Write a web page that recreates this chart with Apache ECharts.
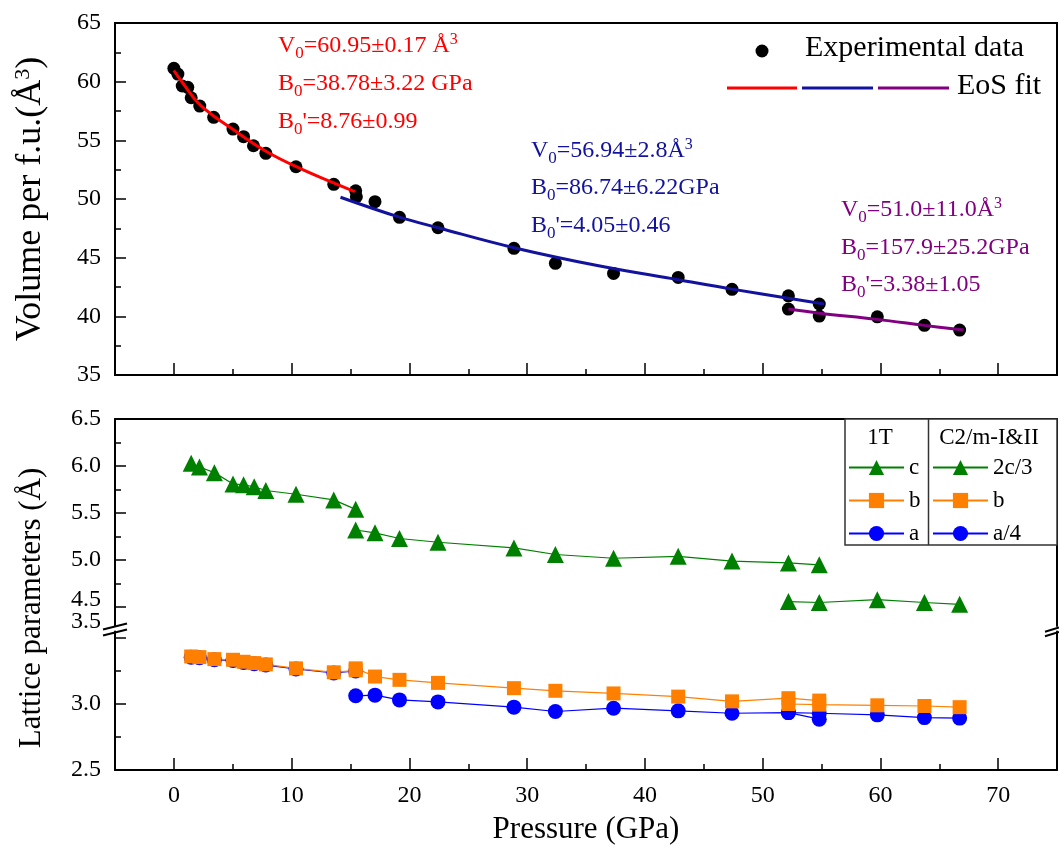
<!DOCTYPE html>
<html><head><meta charset="utf-8">
<script src="https://cdn.jsdelivr.net/npm/echarts@6/dist/echarts.min.js"></script>
<style>html,body{margin:0;padding:0;background:#fff}#c{width:1059px;height:847px}</style>
</head><body><div id="c"></div>
<script>
const FONT = 'Liberation Serif';

// ---------- Top panel: volume per f.u. ----------
const P_VOL = [0, 0.34, 0.71, 1.18, 1.47, 2.2, 3.38, 5.02, 5.92, 6.76, 7.81, 10.37, 13.58, 15.44, 15.5, 17.08, 19.16, 22.43, 28.88, 32.4, 37.34, 42.83, 47.4, 52.19, 52.19, 54.81, 54.81, 59.74, 63.74, 66.73];
const VOLUME = [61.14, 60.65, 59.63, 59.52, 58.63, 57.92, 56.96, 55.96, 55.31, 54.54, 53.89, 52.75, 51.25, 50.7, 50.19, 49.77, 48.44, 47.55, 45.8, 44.52, 43.66, 43.32, 42.3, 41.75, 40.62, 41.05, 40.02, 39.96, 39.23, 38.83];

const FIT1_P = [0, 0.57, 2.25, 5.07, 7.89, 10.71, 13.52, 15.36];
const FIT1_V = [60.95, 60.14, 58.0, 55.9, 54.03, 52.61, 51.39, 50.62];
const FIT2_P = [14.15, 19.16, 22.43, 28.88, 36.07, 42.83, 47.4, 55.23];
const FIT2_V = [50.15, 48.45, 47.55, 45.85, 44.31, 43.12, 42.32, 41.05];
const FIT3_P = [52.19, 54.81, 59.74, 63.74, 67.06];
const FIT3_V = [40.62, 40.27, 39.74, 39.23, 38.83];

// ---------- Bottom panel: lattice parameters ----------
const P_1T = [1.47, 2.17, 3.44, 5.02, 5.92, 6.82, 7.81, 10.37, 13.58, 15.44];
const C_1T = [6.03, 5.99, 5.93, 5.81, 5.80, 5.78, 5.74, 5.70, 5.64, 5.54];
const B_1T = [3.36, 3.355, 3.34, 3.335, 3.32, 3.31, 3.30, 3.27, 3.24, 3.255];
const A_1T = [3.355, 3.35, 3.335, 3.33, 3.315, 3.305, 3.295, 3.265, 3.235, 3.25];

const P_C2M1 = [15.44, 17.08, 19.16, 22.43, 28.88, 32.4, 37.34, 42.83, 47.4, 52.19, 54.81];
const C_C2M1 = [5.32, 5.29, 5.23, 5.19, 5.13, 5.06, 5.02, 5.04, 4.99, 4.97, 4.95];
const B_C2M1 = [3.27, 3.208, 3.183, 3.16, 3.12, 3.10, 3.08, 3.056, 3.02, 3.044, 3.026];
const A_C2M1 = [3.062, 3.067, 3.031, 3.016, 2.976, 2.943, 2.968, 2.948, 2.93, 2.935, 2.885];

const P_C2M2 = [52.19, 54.81, 59.74, 63.74, 66.73];
const C_C2M2 = [4.56, 4.55, 4.58, 4.55, 4.53];
const B_C2M2 = [3.0, 2.995, 2.99, 2.985, 2.976];
const A_C2M2 = [2.935, 2.93, 2.918, 2.897, 2.893];

// ---------- Tick values ----------
const X_MAJOR = [0, 10, 20, 30, 40, 50, 60, 70];
const X_MINOR = [5, 15, 25, 35, 45, 55, 65];
const V_LABELS = [35, 40, 45, 50, 55, 60, 65];
const V_MAJOR = [40, 45, 50, 55, 60];
const V_MINOR = [37.5, 42.5, 47.5, 52.5, 57.5, 62.5];
const Y_UP_LABELS = [4.5, 5.0, 5.5, 6.0, 6.5];
const Y_UP_MAJOR = [4.5, 5.0, 5.5, 6.0];
const Y_UP_MINOR = [4.75, 5.25, 5.75, 6.25];
const Y_LO_LABELS = [2.5, 3.0, 3.5];
const Y_LO_MAJOR = [3.0, 3.5];
const Y_LO_MINOR = [2.75, 3.25];

const zip = (xs, ys) => xs.map((x, i) => [x, ys[i]]);

const GREEN = '#008000', ORANGE = '#FF8000', BLUE = '#0000FF';
const RED = '#FF0000', NAVY = '#12129E', PURPLE = '#800080';

const chart = echarts.init(document.getElementById('c'));

const labelBase = () => ({ fontFamily: FONT, fontSize: 24, color: '#000' });

// axis drawing the frame line (and optionally labels)
function lineAxis(grid, min, max, pos, labels, extra) {
  return Object.assign({
    type: 'value', gridIndex: grid, min, max, position: pos,
    axisLine: { show: true, onZero: false, lineStyle: { color: '#000', width: 2 } },
    axisTick: { show: false }, splitLine: { show: false }, minorTick: { show: false },
    axisLabel: labels ? Object.assign({ show: true, margin: 14, customValues: labels }, labelBase()) : { show: false }
  }, extra || {});
}
// axis drawing only tick marks that point into the plot
function tickAxis(grid, min, max, pos, values, len) {
  return {
    type: 'value', gridIndex: grid, min, max, position: pos,
    axisLine: { show: false, onZero: false },
    axisTick: { show: true, inside: true, length: len, customValues: values, lineStyle: { color: '#000', width: 1.5 } },
    axisLabel: { show: false }, splitLine: { show: false }
  };
}

function lineSeries(name, xs, ys, color, symbol, size, xi, yi) {
  return {
    name, type: 'line', xAxisIndex: xi, yAxisIndex: yi, data: zip(xs, ys),
    symbol, symbolSize: size, showSymbol: true,
    lineStyle: { color, width: 1.2 }, itemStyle: { color, opacity: 1 },
    emphasis: { disabled: true }
  };
}

function fitSeries(xs, ys, color) {
  return {
    type: 'line', xAxisIndex: 0, yAxisIndex: 0, data: zip(xs, ys), smooth: 0.4,
    showSymbol: false, symbol: 'none', lineStyle: { color, width: 3 }, z: 4,
    emphasis: { disabled: true }
  };
}

const sub = { fontFamily: FONT, fontSize: 17, padding: [16, 0, 0, 0] };
const sup = { fontFamily: FONT, fontSize: 16, padding: [0, 0, 11, 0] };

function annot(lines, left, tops, color) {
  return lines.map((t, i) => ({
    type: 'text', left: left, top: tops[i] - 16, z: 10,
    style: {
      text: t, fill: color, fontFamily: FONT, fontSize: 24,
      rich: { s: Object.assign({ fill: color }, sub), p: Object.assign({ fill: color }, sup) }
    }
  }));
}

const graphics = [].concat(
  annot(['V{s|0}=60.95±0.17 Å{p|3}', 'B{s|0}=38.78±3.22 GPa', "B{s|0}'=8.76±0.99"], 278, [48, 88, 126], RED),
  annot(['V{s|0}=56.94±2.8Å{p|3}', 'B{s|0}=86.74±6.22GPa', "B{s|0}'=4.05±0.46"], 531, [153, 192, 230], NAVY),
  annot(['V{s|0}=51.0±11.0Å{p|3}', 'B{s|0}=157.9±25.2GPa', "B{s|0}'=3.38±1.05"], 841, [212, 252, 289], PURPLE),
  [
    // top legend
    { type: 'circle', shape: { cx: 762, cy: 51, r: 6.5 }, style: { fill: '#000' }, z: 10 },
    { type: 'text', left: 805, top: 33, z: 10, style: { text: 'Experimental data', fontFamily: FONT, fontSize: 30, fill: '#000' } },
    { type: 'line', shape: { x1: 727, y1: 88, x2: 797, y2: 88 }, style: { stroke: RED, lineWidth: 3 }, z: 10 },
    { type: 'line', shape: { x1: 802, y1: 88, x2: 873, y2: 88 }, style: { stroke: NAVY, lineWidth: 3 }, z: 10 },
    { type: 'line', shape: { x1: 878, y1: 88, x2: 949, y2: 88 }, style: { stroke: PURPLE, lineWidth: 3 }, z: 10 },
    { type: 'text', left: 957, top: 71, z: 10, style: { text: 'EoS fit', fontFamily: FONT, fontSize: 30, fill: '#000' } },
    // bottom legend box
    { type: 'rect', shape: { x: 845, y: 419, width: 212, height: 126 }, style: { fill: '#fff', stroke: '#333', lineWidth: 1.5 }, z: 1 },
    { type: 'line', shape: { x1: 928.5, y1: 419, x2: 928.5, y2: 545 }, style: { stroke: '#333', lineWidth: 1.5 }, z: 1 },
    { type: 'text', x: 880, y: 438, z: 10, style: { text: '1T', fontFamily: FONT, fontSize: 23, fill: '#000', align: 'center', verticalAlign: 'middle' } },
    { type: 'text', x: 989, y: 438, z: 10, style: { text: 'C2/m-I&II', fontFamily: FONT, fontSize: 23, fill: '#000', align: 'center', verticalAlign: 'middle' } },
    // bottom y title
    { type: 'text', x: 32, y: 608, rotation: Math.PI / 2, z: 10, style: { text: 'Lattice parameters (Å)', fontFamily: FONT, fontSize: 31, fill: '#000', align: 'center', verticalAlign: 'middle' } },
    // axis break marks
    { type: 'line', shape: { x1: 103, y1: 629.5, x2: 127, y2: 623.5 }, style: { stroke: '#000', lineWidth: 2 }, z: 10 },
    { type: 'line', shape: { x1: 103, y1: 635.5, x2: 127, y2: 629.5 }, style: { stroke: '#000', lineWidth: 2 }, z: 10 },
    { type: 'line', shape: { x1: 1045, y1: 631.7, x2: 1059, y2: 627.5 }, style: { stroke: '#000', lineWidth: 2 }, z: 10 },
    { type: 'line', shape: { x1: 1045, y1: 636.2, x2: 1059, y2: 632 }, style: { stroke: '#000', lineWidth: 2 }, z: 10 }
  ]
);

const option = {
  animation: false,
  backgroundColor: '#fff',
  textStyle: { fontFamily: FONT },
  grid: [
    { left: 115, right: 2, top: 23, height: 352, show: true, borderColor: '#000', borderWidth: 2, backgroundColor: 'transparent', outerBoundsMode: 'none' },
    { left: 115, right: 2, top: 419, height: 207, outerBoundsMode: 'none' },
    { left: 115, right: 2, top: 631.4, height: 138.6, outerBoundsMode: 'none' }
  ],
  xAxis: [
    lineAxis(0, -5, 75, 'bottom', null),                 // 0
    tickAxis(0, -5, 75, 'bottom', X_MAJOR, 12),          // 1
    tickAxis(0, -5, 75, 'bottom', X_MINOR, 6),           // 2
    lineAxis(1, -5, 75, 'top', null),                    // 3
    lineAxis(2, -5, 75, 'bottom', X_MAJOR, {             // 4
      name: 'Pressure (GPa)', nameLocation: 'middle', nameGap: 44, nameMoveOverlap: false,
      nameTextStyle: { fontFamily: FONT, fontSize: 31, color: '#000' }
    }),
    tickAxis(2, -5, 75, 'bottom', X_MAJOR, 12),          // 5
    tickAxis(2, -5, 75, 'bottom', X_MINOR, 6)            // 6
  ],
  yAxis: [
    lineAxis(0, 35, 65, 'left', V_LABELS, {              // 0
      name: 'Volume per f.u.(Å{p|3})', nameLocation: 'middle', nameRotate: 90, nameGap: 66, nameMoveOverlap: false,
      nameTextStyle: { fontFamily: FONT, fontSize: 36, color: '#000', rich: { p: { fontFamily: FONT, fontSize: 22, padding: [0, 0, 15, 0] } } }
    }),
    tickAxis(0, 35, 65, 'left', V_MAJOR, 11),            // 1
    tickAxis(0, 35, 65, 'left', V_MINOR, 6),             // 2
    lineAxis(1, 4.3, 6.5, 'left', null, {                // 3
      axisLabel: Object.assign({ margin: 14, customValues: Y_UP_LABELS,
        formatter: v => (Math.abs(v - 4.5) < 1e-6 ? '{u|4.5}' : v.toFixed(1)),
        rich: { u: { fontFamily: FONT, fontSize: 24, padding: [0, 0, 14, 0] } } }, labelBase())
    }),
    tickAxis(1, 4.3, 6.5, 'left', Y_UP_MAJOR, 11),       // 4
    tickAxis(1, 4.3, 6.5, 'left', Y_UP_MINOR, 6),        // 5
    lineAxis(1, 4.3, 6.5, 'right', null),                // 6
    lineAxis(2, 2.5, 3.55, 'left', null, {               // 7
      axisLabel: Object.assign({ margin: 14, customValues: Y_LO_LABELS,
        formatter: v => (Math.abs(v - 3.5) < 1e-6 ? '{u|3.5}' : v.toFixed(1)),
        rich: { u: { fontFamily: FONT, fontSize: 24, padding: [0, 0, 32, 0] } } }, labelBase())
    }),
    tickAxis(2, 2.5, 3.55, 'left', Y_LO_MAJOR, 11),      // 8
    tickAxis(2, 2.5, 3.55, 'left', Y_LO_MINOR, 6),       // 9
    lineAxis(2, 2.5, 3.55, 'right', null)                // 10
  ],
  legend: [
    { data: ['c', 'b', 'a'], orient: 'vertical', left: 848, top: 456, itemWidth: 55, itemHeight: 19, itemGap: 10, padding: 0,
      selectedMode: false, z: 12, textStyle: { fontFamily: FONT, fontSize: 23, color: '#000' } },
    { data: ['2c/3', 'b', 'a/4'], orient: 'vertical', left: 932, top: 456, itemWidth: 55, itemHeight: 19, itemGap: 10, padding: 0,
      selectedMode: false, z: 12, textStyle: { fontFamily: FONT, fontSize: 23, color: '#000' } }
  ],
  graphic: graphics,
  series: [
    { type: 'scatter', xAxisIndex: 0, yAxisIndex: 0, data: zip(P_VOL, VOLUME), symbolSize: 13, itemStyle: { color: '#000', opacity: 1 }, z: 3, emphasis: { disabled: true } },
    fitSeries(FIT1_P, FIT1_V, RED),
    fitSeries(FIT2_P, FIT2_V, NAVY),
    fitSeries(FIT3_P, FIT3_V, PURPLE),

    lineSeries('a', P_1T, A_1T, BLUE, 'circle', 15, 4, 7),
    lineSeries('b', P_1T, B_1T, ORANGE, 'rect', 14, 4, 7),
    lineSeries('a/4', P_C2M1, A_C2M1, BLUE, 'circle', 15, 4, 7),
    lineSeries('a/4', P_C2M2, A_C2M2, BLUE, 'circle', 15, 4, 7),
    lineSeries('b', P_C2M1, B_C2M1, ORANGE, 'rect', 14, 4, 7),
    lineSeries('b', P_C2M2, B_C2M2, ORANGE, 'rect', 14, 4, 7),

    lineSeries('c', P_1T, C_1T, GREEN, 'triangle', 17, 3, 3),
    lineSeries('2c/3', P_C2M1, C_C2M1, GREEN, 'triangle', 17, 3, 3),
    lineSeries('2c/3', P_C2M2, C_C2M2, GREEN, 'triangle', 17, 3, 3)
  ]
};
chart.setOption(option);
</script>
</body></html>
